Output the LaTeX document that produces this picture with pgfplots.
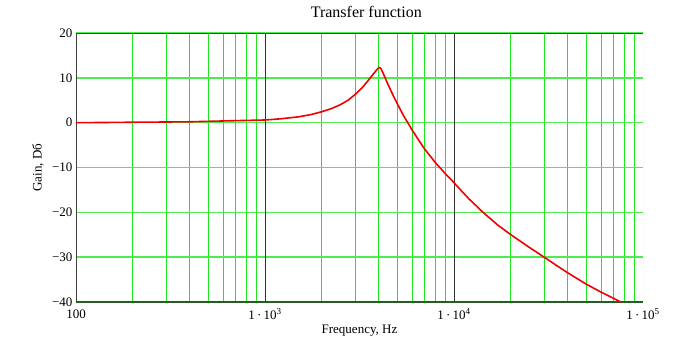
\documentclass[border=0pt]{standalone}
\usepackage{fontspec}
\setmainfont{Liberation Serif}
\usepackage{pgfplots}
\pgfplotsset{compat=1.18}
\definecolor{gridgreen}{RGB}{30,235,30}
\definecolor{hgreen}{RGB}{80,235,80}
\definecolor{bordergreen}{RGB}{35,95,35}
\definecolor{curvered}{RGB}{240,0,0}
\begin{document}
\begin{tikzpicture}
\path[use as bounding box] (-76pt,-47pt) rectangle (612pt,302pt);
\begin{axis}[
  at={(0pt,0pt)}, anchor=south west,
  scale only axis, width=567pt, height=269pt,
  xmode=log, xmin=100, xmax=100000, ymin=-40, ymax=20,
  log basis x=10,
  xtick={100,1000,10000,100000},
  xticklabels={100, 1\,·\,10\textsuperscript{3}, 1\,·\,10\textsuperscript{4}, 1\,·\,10\textsuperscript{5}},
  minor xtick={200,300,400,500,600,700,800,900,2000,3000,4000,5000,6000,7000,8000,9000,20000,30000,40000,50000,60000,70000,80000,90000},
  extra x ticks={1000,10000}, extra x tick labels={},
  extra x tick style={grid=major, major grid style={black!80, line width=0.8pt}},
  ytick={-40,-30,-20,-10,0,10,20},
  yticklabels={−40,−30,−20,−10,0,10,20},
  xminorgrids=true, ymajorgrids=true, xmajorgrids=false,
  minor grid style={gridgreen, line width=0.9pt},
  major grid style={hgreen, line width=1.4pt},
  major tick length=0pt, minor tick length=0pt,
  axis line style={draw=none},
  tick label style={font=\fontsize{13}{15}\selectfont},
  xticklabel style={anchor=center, yshift=-12pt},
  title={Transfer function},
  title style={font=\fontsize{16}{19}\selectfont, at={(axis description cs:0.512,1.056)}, anchor=center},
  xlabel={Frequency, Hz},
  xlabel style={font=\fontsize{13}{15}\selectfont, at={(axis description cs:0.5,-0.108)}, anchor=center},
  ylabel={Gain, Dб},
  ylabel style={font=\fontsize{13}{15}\selectfont, at={(axis description cs:-0.067,0.5)}, anchor=center},
]
\draw[bordergreen, line width=1.3pt] (rel axis cs:0,1) -- (rel axis cs:1,1);
\draw[bordergreen, line width=1.3pt] (rel axis cs:0,0) -- (rel axis cs:1,0);
\draw[black!75, line width=1.3pt] (rel axis cs:0,0) -- (rel axis cs:0,1);
\draw[black!15, line width=0.8pt] (rel axis cs:1,0) -- (rel axis cs:1,1);
\addplot[curvered, line width=1.6pt, line join=round] coordinates {
(100,0.0) (150,0.05) (200,0.1) (300,0.15) (400,0.2) (500,0.3) (700,0.45)
(1000,0.6) (1200,0.85) (1500,1.3) (1750,1.8) (2000,2.45) (2250,3.15) (2500,4.0)
(2750,5.0) (3000,6.3) (3250,7.7) (3500,9.3) (3750,10.9) (3900,11.8)
(4020,12.35) (4100,12.1) (4200,11.2) (4320,10.0) (4500,8.3) (4700,6.6)
(5000,4.3) (5400,1.6) (5730,-0.2) (6000,-1.6) (6500,-3.9)
(7000,-5.9) (7500,-7.5) (8000,-9.0) (8500,-10.2) (9000,-11.4) (9500,-12.4)
(10000,-13.4) (11000,-15.3) (12000,-17.0) (13000,-18.4) (14000,-19.7) (14600,-20.4)
(17000,-22.8) (20000,-25.0) (25000,-27.8) (30000,-30.0) (35000,-31.9)
(40000,-33.5) (50000,-36.0) (60000,-37.8) (70000,-39.2) (77000,-40.1)
};
\end{axis}
\end{tikzpicture}
\end{document}
